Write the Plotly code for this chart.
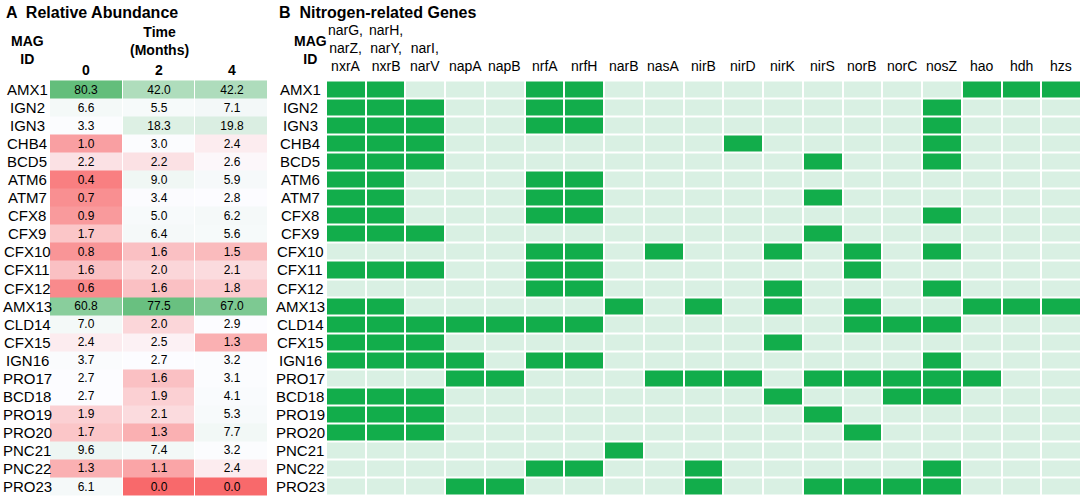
import numpy as np
import plotly.graph_objects as go

mag_ids = ["AMX1", "IGN2", "IGN3", "CHB4", "BCD5", "ATM6", "ATM7", "CFX8", "CFX9",
           "CFX10", "CFX11", "CFX12", "AMX13", "CLD14", "CFX15", "IGN16", "PRO17",
           "BCD18", "PRO19", "PRO20", "PNC21", "PNC22", "PRO23"]

time_labels = ["0", "2", "4"]

abund_t0 = [80.3, 6.6, 3.3, 1.0, 2.2, 0.4, 0.7, 0.9, 1.7, 0.8, 1.6, 0.6, 60.8, 7.0,
            2.4, 3.7, 2.7, 2.7, 1.9, 1.7, 9.6, 1.3, 6.1]
abund_t2 = [42.0, 5.5, 18.3, 3.0, 2.2, 9.0, 3.4, 5.0, 6.4, 1.6, 2.0, 1.6, 77.5, 2.0,
            2.5, 2.7, 1.6, 1.9, 2.1, 1.3, 7.4, 1.1, 0.0]
abund_t4 = [42.2, 7.1, 19.8, 2.4, 2.6, 5.9, 2.8, 6.2, 5.6, 1.5, 2.1, 1.8, 67.0, 2.9,
            1.3, 3.2, 3.1, 4.1, 5.3, 7.7, 3.2, 2.4, 0.0]

gene_labels = ["narG,<br>narZ,<br>nxrA", "narH,<br>narY,<br>nxrB", "narI,<br>narV",
               "napA", "napB", "nrfA", "nrfH", "narB", "nasA", "nirB", "nirD", "nirK",
               "nirS", "norB", "norC", "nosZ", "hao", "hdh", "hzs"]

# presence/absence of genes per MAG (rows follow mag_ids, columns follow gene_labels)
genes_present = [
    [1, 1, 0, 0, 0, 1, 1, 0, 0, 0, 0, 0, 0, 0, 0, 0, 1, 1, 1],  # AMX1
    [1, 1, 1, 0, 0, 1, 1, 0, 0, 0, 0, 0, 0, 0, 0, 1, 0, 0, 0],  # IGN2
    [1, 1, 1, 0, 0, 1, 1, 0, 0, 0, 0, 0, 0, 0, 0, 1, 0, 0, 0],  # IGN3
    [1, 1, 1, 0, 0, 0, 0, 0, 0, 0, 1, 0, 0, 0, 0, 1, 0, 0, 0],  # CHB4
    [1, 1, 1, 0, 0, 0, 0, 0, 0, 0, 0, 0, 1, 0, 0, 1, 0, 0, 0],  # BCD5
    [1, 1, 0, 0, 0, 1, 1, 0, 0, 0, 0, 0, 0, 0, 0, 0, 0, 0, 0],  # ATM6
    [1, 1, 0, 0, 0, 1, 1, 0, 0, 0, 0, 0, 1, 0, 0, 0, 0, 0, 0],  # ATM7
    [1, 1, 0, 0, 0, 1, 1, 0, 0, 0, 0, 0, 0, 0, 0, 1, 0, 0, 0],  # CFX8
    [1, 1, 1, 0, 0, 0, 0, 0, 0, 0, 0, 0, 1, 0, 0, 0, 0, 0, 0],  # CFX9
    [0, 0, 0, 0, 0, 1, 1, 0, 1, 0, 0, 1, 0, 1, 0, 1, 0, 0, 0],  # CFX10
    [1, 1, 1, 0, 0, 1, 1, 0, 0, 0, 0, 0, 0, 1, 0, 0, 0, 0, 0],  # CFX11
    [0, 0, 0, 0, 0, 1, 1, 0, 0, 0, 0, 1, 0, 0, 0, 1, 0, 0, 0],  # CFX12
    [1, 1, 0, 0, 0, 0, 0, 1, 0, 1, 0, 1, 0, 1, 0, 0, 1, 1, 1],  # AMX13
    [1, 1, 1, 1, 1, 1, 1, 0, 0, 0, 0, 0, 0, 1, 1, 1, 0, 0, 0],  # CLD14
    [1, 1, 1, 0, 0, 0, 0, 0, 0, 0, 0, 1, 0, 0, 0, 0, 0, 0, 0],  # CFX15
    [1, 1, 1, 1, 0, 1, 1, 0, 0, 0, 0, 0, 0, 0, 0, 1, 0, 0, 0],  # IGN16
    [0, 0, 0, 1, 1, 0, 0, 0, 1, 1, 1, 0, 1, 1, 1, 1, 1, 0, 0],  # PRO17
    [1, 1, 1, 0, 0, 0, 0, 0, 0, 0, 0, 1, 0, 0, 1, 1, 0, 0, 0],  # BCD18
    [1, 1, 1, 0, 0, 0, 0, 0, 0, 0, 0, 0, 1, 0, 0, 0, 0, 0, 0],  # PRO19
    [1, 1, 1, 0, 0, 0, 0, 0, 0, 0, 0, 0, 0, 1, 0, 0, 0, 0, 0],  # PRO20
    [0, 0, 0, 0, 0, 0, 0, 1, 0, 0, 0, 0, 0, 0, 0, 0, 0, 0, 0],  # PNC21
    [0, 0, 0, 0, 0, 1, 1, 0, 0, 1, 0, 0, 0, 0, 0, 1, 0, 0, 0],  # PNC22
    [0, 0, 0, 1, 1, 0, 0, 0, 0, 1, 0, 0, 1, 1, 1, 1, 0, 0, 0],  # PRO23
]

FONT = "Liberation Sans, Arial, sans-serif"
W, H = 1084, 500

abund = np.array([abund_t0, abund_t2, abund_t4]).T
zmin, zmax = float(abund.min()), float(abund.max())
zmid = float(np.median(abund))
midpos = (zmid - zmin) / (zmax - zmin)
abund_scale = [[0, "#F8696B"], [midpos, "#FCFCFF"], [1, "#63BE7B"]]

time_idx = list(range(len(time_labels)))
gene_idx = list(range(len(gene_labels)))


def px(x):
    return x / W


def py(y):
    return 1 - y / H


fig = go.Figure()

fig.add_trace(go.Heatmap(
    z=abund, x=time_idx, y=mag_ids,
    colorscale=abund_scale, zmin=zmin, zmax=zmax, showscale=False,
    xgap=1, ygap=0,
    texttemplate="%{z:.1f}", textfont=dict(family=FONT, size=12, color="black"),
    hoverinfo="skip",
    xaxis="x", yaxis="y",
))

fig.add_trace(go.Heatmap(
    z=genes_present, x=gene_idx, y=mag_ids,
    colorscale=[[0, "#D9F0E3"], [1, "#12AD4B"]], zmin=0, zmax=1, showscale=False,
    xgap=2, ygap=2, hoverinfo="skip",
    xaxis="x2", yaxis="y2",
))

y_top, y_bot = 79, 497
axis_common = dict(showgrid=False, zeroline=False, showticklabels=False, ticks="",
                   showline=False)
fig.update_layout(
    width=W, height=H,
    margin=dict(l=0, r=0, t=0, b=0),
    paper_bgcolor="white", plot_bgcolor="white",
    font=dict(family=FONT, color="black"),
    xaxis=dict(domain=[px(50), px(268)], anchor="y",
               range=[-0.5, len(time_labels) - 0.5], **axis_common),
    yaxis=dict(domain=[py(y_bot), py(y_top)], anchor="x", type="category",
               autorange="reversed", **axis_common),
    xaxis2=dict(domain=[px(326), px(1081)], anchor="y2",
                range=[-0.5, len(gene_labels) - 0.5], **axis_common),
    yaxis2=dict(domain=[py(y_bot), py(y_top)], anchor="x2", type="category",
                autorange="reversed", **axis_common),
)

ann = []
# Panel titles
ann.append(dict(text="<b>A  Relative Abundance</b>", x=px(4), y=py(12), xref="paper",
                yref="paper", xanchor="left", yanchor="middle", showarrow=False,
                font=dict(size=16)))
ann.append(dict(text="<b>B  Nitrogen-related Genes</b>", x=px(277), y=py(12), xref="paper",
                yref="paper", xanchor="left", yanchor="middle", showarrow=False,
                font=dict(size=16)))
# MAG ID headers
for cx in (27, 310):
    ann.append(dict(text="<b>MAG<br>ID</b>", x=px(cx), y=py(50), xref="paper", yref="paper",
                    xanchor="center", yanchor="middle", showarrow=False,
                    font=dict(size=14)))
# Time header
ann.append(dict(text="<b>Time<br>(Months)</b>", x=time_idx[1], y=py(41), xref="x",
                yref="paper", xanchor="center", yanchor="middle", showarrow=False,
                font=dict(size=14)))
for i, t in zip(time_idx, time_labels):
    ann.append(dict(text="<b>%s</b>" % t, x=i, y=py(70), xref="x", yref="paper",
                    xanchor="center", yanchor="middle", showarrow=False,
                    font=dict(size=14)))
# Gene headers
for i, g in zip(gene_idx, gene_labels):
    ann.append(dict(text=g, x=i, y=py(76), xref="x2", yref="paper", xanchor="center",
                    yanchor="bottom", showarrow=False, font=dict(size=14)))
# Row labels
for m in mag_ids:
    ann.append(dict(text=m, x=px(27), y=m, xref="paper", yref="y", xanchor="center",
                    yanchor="middle", showarrow=False, font=dict(size=15)))
    ann.append(dict(text=m, x=px(300), y=m, xref="paper", yref="y2", xanchor="center",
                    yanchor="middle", showarrow=False, font=dict(size=15)))

fig.update_layout(annotations=ann)

fig.write_html("out.html",
               config={"displayModeBar": False},
               post_script="document.body.style.margin='0px';"
                           "document.body.style.overflow='hidden';")
